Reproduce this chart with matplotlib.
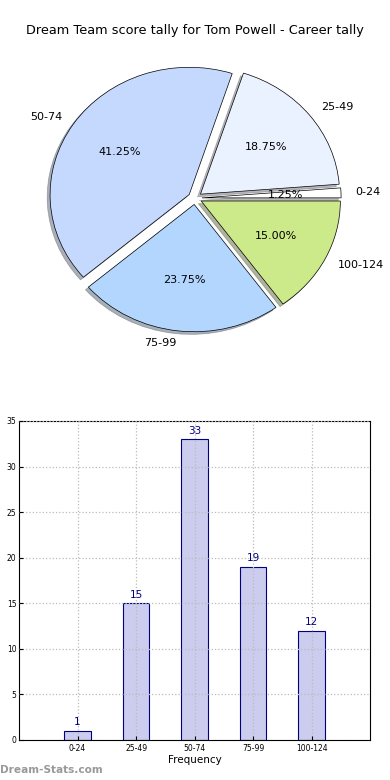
import numpy as np
import matplotlib
matplotlib.use('Agg')
import matplotlib.pyplot as plt

# score tally data
categories = ['0-24', '25-49', '50-74', '75-99', '100-124']
counts = [1, 15, 33, 19, 12]
pie_colors = ['#ffffff', '#eaf1ff', '#c5d9ff', '#b3d6ff', '#cdea8a']

fig = plt.figure(figsize=(3.9, 7.8), dpi=100)
fig.text(0.5, 0.961, 'Dream Team score tally for Tom Powell - Career tally',
         ha='center', va='center', fontsize=9.3)

# pie (slightly elliptical, like the old matplotlib output)
ax1 = fig.add_axes([0.054, 0.542, 0.892, 0.408])
wedges, texts, autotexts = ax1.pie(counts, labels=categories, colors=pie_colors,
                                   explode=[0.05] * len(counts), autopct='%1.2f%%',
                                   shadow={'ox': -0.015, 'oy': -0.015, 'shade': 0.55},
                                   startangle=0,
                                   wedgeprops=dict(edgecolor='black', linewidth=0.5),
                                   textprops=dict(fontsize=8))
ax1.set_aspect('auto')
ax1.set_xlim(-1.25, 1.25)
ax1.set_ylim(-1.25, 1.25)

# bar chart
ax2 = fig.add_axes([0.049, 0.0513, 0.9, 0.409])
x = np.arange(len(categories))
bars = ax2.bar(x, counts, width=0.45, color='#ccccee', edgecolor='navy', linewidth=0.8)
for xi, c in zip(x, counts):
    ax2.text(xi, c + 0.4, str(c), ha='center', va='bottom', color='navy', fontsize=7.5)
ax2.set_xlim(-1, 5)
ax2.set_ylim(0, 35)
ax2.set_xticks(x)
ax2.set_xticklabels(categories, fontsize=5.5)
ax2.set_yticks(np.arange(0, 36, 5))
ax2.tick_params(axis='y', labelsize=5.5, length=3, direction='in', pad=2)
ax2.tick_params(axis='x', length=3, direction='in', pad=3)
ax2.set_axisbelow(False)
ax2.grid(True, linestyle=':', color='#bbbbbb', linewidth=0.9)
ax2.set_xlabel('Frequency', fontsize=7.5, labelpad=1)
ax2.set_ylabel('Score Interval', fontsize=7.5, labelpad=4)
for s in ax2.spines.values():
    s.set_linewidth(0.8)

fig.text(0.0, 0.013, 'Dream-Stats.com', fontsize=7.6, color='#999999',
         fontweight='bold', ha='left', va='center')

fig.savefig('out.png', dpi=100)
